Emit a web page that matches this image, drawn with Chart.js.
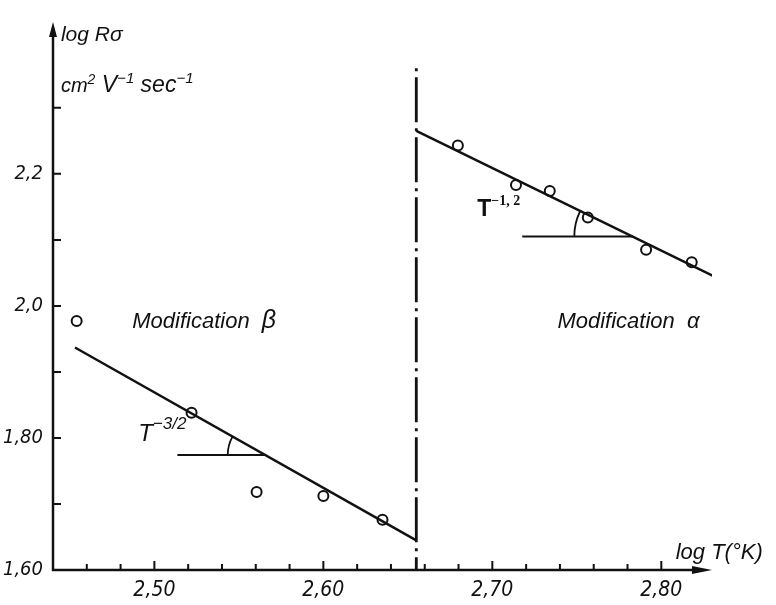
<!DOCTYPE html>
<html>
<head>
<meta charset="utf-8">
<script src="https://cdn.jsdelivr.net/npm/chart.js@4"></script>
<style>
  body { margin: 0; background: #fff; }
</style>
</head>
<body>
<canvas id="chart" width="776" height="605"></canvas>
<script>
// pontos medidos - modificação beta (esquerda) e alfa (direita)
const betaX = [2.454, 2.522, 2.5605, 2.600, 2.635];
const betaY = [1.977, 1.838, 1.718, 1.712, 1.676];
const alphaX = [2.6796, 2.714, 2.734, 2.7565, 2.791, 2.818];
const alphaY = [2.243, 2.183, 2.174, 2.134, 2.085, 2.066];

// retas ajustadas
const betaLineX = [2.453, 2.655];
const betaLineY = [1.937, 1.645];
const alphaLineX = [2.655, 2.831];
const alphaLineY = [2.265, 2.045];

// linha de transição (traço-ponto)
const transX = [2.655, 2.655];
const transY = [2.36, 1.60];

// horizontais dos ângulos
const betaAngleX = [2.5136, 2.566];
const betaAngleY = [1.774, 1.774];
const alphaAngleX = [2.7177, 2.783];
const alphaAngleY = [2.105, 2.105];

// eixos
const xMin = 2.44, xMax = 2.83;
const yMin = 1.60, yMax = 2.43;
const xLabelTicks = [2.50, 2.60, 2.70, 2.80];
const xTickText = ['2,50', '2,60', '2,70', '2,80'];
const xMinorTicks = [2.46, 2.48, 2.52, 2.54, 2.56, 2.58, 2.62, 2.64, 2.66, 2.68, 2.72, 2.74, 2.76, 2.78];
const yLabelTicks = [1.60, 1.80, 2.0, 2.2];
const yTickText = ['1,60', '1,80', '2,0', '2,2'];
const yMinorTicks = [1.70, 1.90, 2.1, 2.3];

const NARROW = "'Liberation Sans Narrow', 'DejaVu Sans Condensed', sans-serif";
const SANS = "'Liberation Sans', Arial, sans-serif";
const SERIF = "'Liberation Serif', 'Times New Roman', serif";

function pts(xs, ys) {
  return xs.map((x, i) => ({ x: x, y: ys[i] }));
}

// textos do gráfico, posicionados em coordenadas de dados
const labels = [
  { x: 2.4447, y: 2.4015, parts: [{ t: 'log Rσ', font: 'italic 21px ' + SANS }] },
  { x: 2.4447, y: 2.3236, parts: [
    { t: 'cm', font: 'italic 20px ' + SANS },
    { t: '2', font: 'italic 14px ' + SANS, dy: -8 },
    { t: ' V', font: 'italic 23px ' + SANS },
    { t: '−1', font: 'italic 15px ' + SANS, dy: -9 },
    { t: ' sec', font: 'italic 23px ' + SANS },
    { t: '−1', font: 'italic 15px ' + SANS, dy: -9 }
  ] },
  { x: 2.4869, y: 1.967, parts: [
    { t: 'Modification  ', font: 'italic 22px ' + SANS },
    { t: 'β', font: 'italic 25px ' + SANS }
  ] },
  { x: 2.7385, y: 1.967, parts: [{ t: 'Modification  α', font: 'italic 22px ' + SANS }] },
  { x: 2.4904, y: 1.7948, parts: [
    { t: 'T', font: 'italic 24px ' + SANS },
    { t: '−3/2', font: 'italic 17px ' + SANS, dy: -12 }
  ] },
  { x: 2.691, y: 2.1363, parts: [
    { t: 'T', font: 'bold 23px ' + SANS },
    { t: '−1, 2', font: 'bold 14px ' + SERIF, dy: -11 }
  ] },
  { x: 2.8085, y: 1.6165, parts: [{ t: 'log T(°K)', font: 'italic 22px ' + SANS }] }
];

// arcos dos ângulos: centro na interseção, raio em unidades de x
const arcs = [
  { x: 2.566, y: 1.774, r: 0.0226, lx: betaLineX, ly: betaLineY },
  { x: 2.783, y: 2.105, r: 0.0345, lx: alphaLineX, ly: alphaLineY }
];

const axesPlugin = {
  id: 'axes',
  afterDraw(chart) {
    const ctx = chart.ctx;
    const xs = chart.scales.x, ys = chart.scales.y;
    const a = chart.chartArea;
    ctx.save();
    ctx.strokeStyle = '#111';
    ctx.fillStyle = '#111';
    ctx.lineWidth = 2.5;
    ctx.lineCap = 'butt';

    // eixo y com seta
    ctx.beginPath();
    ctx.moveTo(a.left, a.bottom + 1);
    ctx.lineTo(a.left, a.top + 10);
    ctx.stroke();
    ctx.beginPath();
    ctx.moveTo(a.left, a.top);
    ctx.lineTo(a.left - 4, a.top + 15);
    ctx.lineTo(a.left + 4, a.top + 15);
    ctx.closePath();
    ctx.fill();

    // eixo x com seta
    ctx.beginPath();
    ctx.moveTo(a.left - 1, a.bottom);
    ctx.lineTo(a.right - 10, a.bottom);
    ctx.stroke();
    ctx.beginPath();
    ctx.moveTo(a.right, a.bottom);
    ctx.lineTo(a.right - 20, a.bottom - 4);
    ctx.lineTo(a.right - 20, a.bottom + 4);
    ctx.closePath();
    ctx.fill();

    // marcas dos eixos (para dentro)
    ctx.lineWidth = 2;
    ctx.beginPath();
    xLabelTicks.forEach(v => {
      let px = xs.getPixelForValue(v);
      ctx.moveTo(px, a.bottom);
      ctx.lineTo(px, a.bottom - 9);
    });
    xMinorTicks.forEach(v => {
      let px = xs.getPixelForValue(v);
      ctx.moveTo(px, a.bottom);
      ctx.lineTo(px, a.bottom - 6);
    });
    yLabelTicks.concat(yMinorTicks).forEach(v => {
      let py = ys.getPixelForValue(v);
      ctx.moveTo(a.left, py);
      ctx.lineTo(a.left + 8, py);
    });
    ctx.stroke();

    // arcos
    ctx.lineWidth = 1.8;
    arcs.forEach(arc => {
      let cx = xs.getPixelForValue(arc.x);
      let cy = ys.getPixelForValue(arc.y);
      let r = cx - xs.getPixelForValue(arc.x - arc.r);
      let dx = xs.getPixelForValue(arc.lx[1]) - xs.getPixelForValue(arc.lx[0]);
      let dy = ys.getPixelForValue(arc.ly[1]) - ys.getPixelForValue(arc.ly[0]);
      let theta = Math.atan2(dy, dx);
      ctx.beginPath();
      ctx.arc(cx, cy, r, Math.PI, Math.PI + theta, false);
      ctx.stroke();
    });

    // textos
    ctx.textBaseline = 'alphabetic';
    ctx.textAlign = 'left';
    labels.forEach(lb => {
      let px = xs.getPixelForValue(lb.x);
      let py = ys.getPixelForValue(lb.y);
      lb.parts.forEach(p => {
        ctx.font = p.font;
        ctx.fillText(p.t, px, py + (p.dy || 0));
        px += ctx.measureText(p.t).width;
      });
    });
    ctx.restore();
  }
};

const lineStyle = { showLine: true, pointRadius: 0, borderColor: '#111', borderWidth: 2.5, fill: false };
const dotStyle = { showLine: false, pointRadius: 5, pointBorderWidth: 2, pointBorderColor: '#111', pointBackgroundColor: '#fff' };

new Chart(document.getElementById('chart').getContext('2d'), {
  type: 'scatter',
  data: {
    datasets: [
      Object.assign({ data: pts(transX, transY), borderDash: [3, 6, 45, 6] }, lineStyle, { borderWidth: 2.8 }),
      Object.assign({ data: pts(betaLineX, betaLineY) }, lineStyle),
      Object.assign({ data: pts(alphaLineX, alphaLineY) }, lineStyle),
      Object.assign({ data: pts(betaAngleX, betaAngleY) }, lineStyle, { borderWidth: 2 }),
      Object.assign({ data: pts(alphaAngleX, alphaAngleY) }, lineStyle, { borderWidth: 2 }),
      Object.assign({ data: pts(betaX, betaY) }, dotStyle),
      Object.assign({ data: pts(alphaX, alphaY) }, dotStyle)
    ]
  },
  options: {
    responsive: false,
    animation: false,
    devicePixelRatio: 1,
    layout: { padding: { top: 15, right: 64, left: 0, bottom: 0 } },
    plugins: { legend: { display: false }, tooltip: { enabled: false } },
    scales: {
      x: {
        type: 'linear', min: xMin, max: xMax,
        grid: { display: false, drawTicks: false },
        border: { display: false },
        afterBuildTicks: s => { s.ticks = xLabelTicks.map(v => ({ value: v })); },
        afterFit: s => { s.height = 35; },
        ticks: {
          autoSkip: false, maxRotation: 0, padding: 8, color: '#111',
          font: { family: NARROW, size: 21, style: 'italic' },
          callback: (v, i) => xTickText[i]
        }
      },
      y: {
        type: 'linear', min: yMin, max: yMax,
        grid: { display: false, drawTicks: false },
        border: { display: false },
        afterBuildTicks: s => { s.ticks = yLabelTicks.map(v => ({ value: v })); },
        afterFit: s => { s.width = 53; },
        ticks: {
          autoSkip: false, padding: 10, color: '#111',
          font: { family: NARROW, size: 20, style: 'italic' },
          callback: (v, i) => yTickText[i]
        }
      }
    }
  },
  plugins: [axesPlugin]
});
</script>
</body>
</html>
